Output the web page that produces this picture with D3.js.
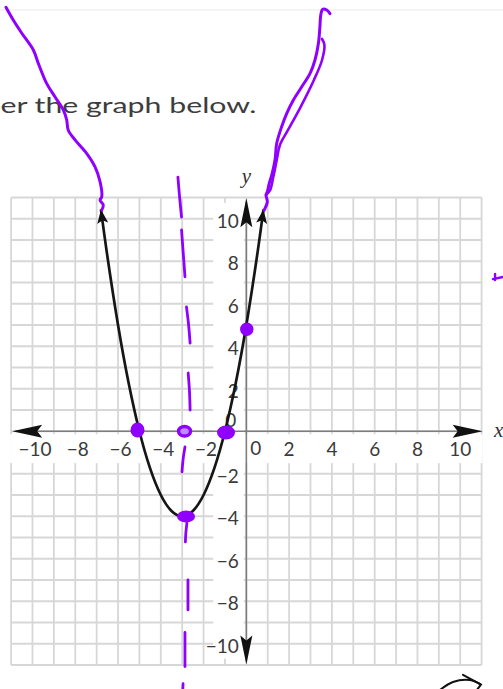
<!DOCTYPE html>
<html>
<head>
<meta charset="utf-8">
<script src="https://cdn.jsdelivr.net/npm/d3@7"></script>
<style>
  html, body { margin: 0; padding: 0; background: #fff; overflow: hidden; }
  svg { display: block; }
</style>
</head>
<body>
<svg id="chart" width="503" height="689"></svg>
<script>
// Graph of y = x² + 6x + 5 on a −11…11 coordinate grid, with hand-drawn notes.

const gridMin = -11, gridMax = 11;

const xTickValues = [-10, -8, -6, -4, -2, 2, 4, 6, 8, 10];
const xTickLabels = ["−10", "−8", "−6", "−4", "−2", "2", "4", "6", "8", "10"];
const yTickValues = [-10, -8, -6, -4, -2, 2, 4, 6, 8, 10];
const yTickLabels = ["−10", "−8", "−6", "−4", "−2", "2", "4", "6", "8", "10"];

// Points on the plotted parabola
const parabolaX = [-6.8, -6.5, -6, -5.5, -5, -4.5, -4, -3.5, -3, -2.5, -2, -1.5, -1, -0.5, 0, 0.5, 0.8];
const parabolaY = [10.44, 8.25, 5, 2.25, 0, -1.75, -3, -3.75, -4, -3.75, -3, -1.75, 0, 2.25, 5, 8.25, 10.44];

// Hand-drawn extensions of the curve (graph units)
const inkLeft = [[-11.24, 19.95], [-10.90, 19.35], [-10.50, 18.73], [-9.96, 17.94], [-9.73, 17.32],
  [-9.34, 16.37], [-8.95, 15.74], [-8.56, 15.12], [-8.40, 14.65], [-8.33, 14.18], [-8.01, 13.71],
  [-7.47, 13.08], [-7.08, 12.45], [-6.84, 11.74], [-6.76, 11.04], [-6.84, 10.88], [-6.69, 10.65], [-6.76, 10.41]];
const inkRightUp = [[3.91, 19.65], [3.76, 19.82], [3.57, 19.86], [3.48, 19.59], [3.44, 19.04], [3.37, 18.26],
  [3.21, 17.47], [2.98, 16.84], [2.59, 16.21], [2.20, 15.59], [1.89, 14.96], [1.65, 14.33], [1.42, 13.55],
  [1.34, 12.76], [1.19, 12.06], [1.07, 11.67], [0.98, 11.27], [0.92, 11.12], [0.98, 10.80], [0.83, 10.40]];
const inkRightBack = [[0.92, 11.12], [1.11, 11.35], [1.25, 11.92], [1.42, 12.76], [1.57, 13.47], [1.95, 14.18],
  [2.51, 15.21], [3.16, 16.53], [3.54, 17.47], [3.65, 18.18], [3.54, 18.46]];

// Dashed axis of symmetry, drawn by hand near x = −3
const symmetryDashes = [
  [[-3.20, 11.96], [-3.12, 11.0], [-3.03, 10.08]],
  [[-3.03, 9.47], [-2.96, 8.5], [-2.87, 7.27]],
  [[-2.80, 5.85], [-2.70, 5.0], [-2.63, 4.15]],
  [[-2.72, 2.74], [-2.66, 1.9], [-2.63, 1.00]],
  [[-2.87, -0.74], [-2.95, -1.25], [-3.01, -1.91]],
  [[-2.78, -4.32], [-2.83, -4.8], [-2.85, -5.21]],
  [[-2.73, -7.00], [-2.73, -8.41]],
  [[-2.87, -9.47], [-2.87, -11.07]],
  [[-2.96, -11.88], [-2.98, -12.3]]
];

// Marked points: x-intercepts, vertex, y-intercept
const blobs = [
  { x: -5.09, y: 0.06, rx: 7, ry: 7.5 },
  { x: -0.95, y: -0.06, rx: 9, ry: 7 },
  { x: -2.82, y: -4.01, rx: 9, ry: 6 }
];
const loopMark = { x: -2.89, y: 0.0, rx: 6, ry: 4.8 };
const interceptDot = { x: 0.02, y: 4.80, r: 6.7 };

// Small stray marks
const sideTick = [[[11.53, 7.16], [11.99, 7.26]], [[11.63, 7.40], [11.63, 7.12]]];
const turnArrow = [[9.05, -12.18], [9.66, -11.80], [10.46, -11.71], [10.92, -11.89]];
const turnArrowHead = [[10.13, -11.46], [10.97, -11.92], [10.80, -12.15]];

const W = 503, H = 689;
const x = d3.scaleLinear().domain([gridMin, gridMax]).range([11.1, 481.6]);
const y = d3.scaleLinear().domain([gridMin, gridMax]).range([665, 197.5]);

const svg = d3.select("#chart");
const ink = "#9000ff";

// faint page rule
svg.append("line").attr("x1", 0).attr("x2", W).attr("y1", 10).attr("y2", 10)
  .attr("stroke", "#f0f0f0").attr("stroke-width", 1.5);

// prompt text
svg.append("text")
  .attr("x", 0.5).attr("y", 113)
  .attr("font-family", "Lato, 'Noto Sans', sans-serif")
  .attr("font-size", 22)
  .attr("fill", "#3d3d3d")
  .attr("textLength", 256)
  .attr("lengthAdjust", "spacingAndGlyphs")
  .text("er the graph below.");

// grid
const gridVals = d3.range(gridMin, gridMax + 1);
const gGrid = svg.append("g").attr("stroke", "#d7d7d7").attr("stroke-width", 1.8);
gGrid.selectAll("line.v").data(gridVals).join("line").attr("class", "v")
  .attr("x1", d => x(d)).attr("x2", d => x(d))
  .attr("y1", y(gridMax)).attr("y2", y(gridMin));
gGrid.selectAll("line.h").data(gridVals).join("line").attr("class", "h")
  .attr("y1", d => y(d)).attr("y2", d => y(d))
  .attr("x1", x(gridMin)).attr("x2", x(gridMax));

// white strips behind the tick labels
svg.append("rect")
  .attr("x", x(gridMin) - 1).attr("width", x(gridMax) - x(gridMin) + 2)
  .attr("y", y(-0.14)).attr("height", y(-1.5) - y(-0.14))
  .attr("fill", "#fff");
svg.append("rect")
  .attr("x", x(-1.55)).attr("width", x(-0.12) - x(-1.55))
  .attr("y", y(10.75)).attr("height", y(-10.7) - y(10.75))
  .attr("fill", "#fff");

// axes
const axisColor = "#7d7d7d";
svg.append("line").attr("x1", x(-10.8)).attr("x2", x(10.8)).attr("y1", y(0)).attr("y2", y(0))
  .attr("stroke", axisColor).attr("stroke-width", 1.6);
svg.append("line").attr("y1", y(10.8)).attr("y2", y(-10.8)).attr("x1", x(0)).attr("x2", x(0))
  .attr("stroke", axisColor).attr("stroke-width", 1.6);

function arrowHead(tx, ty, angleDeg, L, w, notch) {
  const pts = [[0, 0], [-L, -w], [-L + notch, 0], [-L, w]];
  svg.append("path")
    .attr("d", "M" + pts.map(p => p.join(",")).join("L") + "Z")
    .attr("transform", `translate(${tx},${ty}) rotate(${angleDeg})`)
    .attr("fill", "#111");
}
arrowHead(x(-10.95), y(0), 180, 30, 6.5, 5);
arrowHead(x(11.05), y(0), 0, 30, 6.5, 5);
arrowHead(x(0), y(10.96), -90, 29, 6, 5);
arrowHead(x(0), y(-10.98), 90, 29, 6, 5);

// tick labels
const labelFont = "Lato, 'Noto Sans', sans-serif";
svg.append("g").selectAll("text").data(xTickValues).join("text")
  .attr("x", d => x(d) + (d < 0 ? 2.5 : 0))
  .attr("y", y(0) + 24.5)
  .attr("text-anchor", "middle")
  .attr("font-family", labelFont).attr("font-size", 19).attr("fill", "#3a3a3a")
  .text((d, i) => xTickLabels[i]);
svg.append("g").selectAll("text").data(yTickValues).join("text")
  .attr("x", x(0) - 7.5)
  .attr("y", d => y(d) + 9)
  .attr("text-anchor", "end")
  .attr("font-family", labelFont).attr("font-size", 19).attr("fill", "#3a3a3a")
  .text((d, i) => yTickLabels[i]);
svg.append("text").attr("x", x(0) - 10).attr("y", y(0) - 4)
  .attr("text-anchor", "end")
  .attr("font-family", labelFont).attr("font-size", 19).attr("fill", "#3a3a3a").text("0");
svg.append("text").attr("x", x(0) + 9.5).attr("y", y(0) + 24)
  .attr("text-anchor", "middle")
  .attr("font-family", labelFont).attr("font-size", 19).attr("fill", "#3a3a3a").text("0");

// axis names
svg.append("text").attr("x", x(0)).attr("y", 183).attr("text-anchor", "middle")
  .attr("font-family", "'Liberation Serif', 'DejaVu Serif', serif").attr("font-style", "italic")
  .attr("font-size", 21).attr("fill", "#333").text("y");
svg.append("text").attr("x", 494).attr("y", y(0) + 5.5)
  .attr("font-family", "'Liberation Serif', 'DejaVu Serif', serif").attr("font-style", "italic")
  .attr("font-size", 21).attr("fill", "#333").text("x");

// parabola
const parabolaPts = parabolaX.map((v, i) => [v, parabolaY[i]]);
const curveLine = d3.line().x(d => x(d[0])).y(d => y(d[1])).curve(d3.curveNatural);
const curvePath = svg.append("path")
  .attr("d", curveLine(parabolaPts))
  .attr("fill", "none").attr("stroke", "#161616").attr("stroke-width", 2.7);

const pNode = curvePath.node();
const total = pNode.getTotalLength();
function endArrow(atStart) {
  const a = pNode.getPointAtLength(atStart ? 0 : total);
  const b = pNode.getPointAtLength(atStart ? 3 : total - 3);
  const ang = Math.atan2(a.y - b.y, a.x - b.x) * 180 / Math.PI;
  arrowHead(a.x, a.y, ang, 14, 5.5, 3);
}
endArrow(true);
endArrow(false);

// handwritten notes
const inkLine = d3.line().x(d => x(d[0])).y(d => y(d[1])).curve(d3.curveCatmullRom.alpha(0.5));
const gInk = svg.append("g").attr("fill", "none").attr("stroke", ink)
  .attr("stroke-width", 3).attr("stroke-linecap", "round").attr("stroke-linejoin", "round");

gInk.append("path").attr("d", inkLine(inkLeft));
gInk.append("path").attr("d", inkLine(inkRightUp));
gInk.append("path").attr("d", inkLine(inkRightBack)).attr("stroke-width", 2.6);
gInk.selectAll("path.dash").data(symmetryDashes).join("path").attr("class", "dash")
  .attr("d", d => inkLine(d)).attr("stroke-width", 2.8);
gInk.selectAll("path.side").data(sideTick).join("path").attr("class", "side")
  .attr("d", d => inkLine(d)).attr("stroke-width", 2.4);

svg.append("g").selectAll("ellipse").data(blobs).join("ellipse")
  .attr("cx", d => x(d.x)).attr("cy", d => y(d.y))
  .attr("rx", d => d.rx).attr("ry", d => d.ry)
  .attr("fill", ink);
svg.append("ellipse")
  .attr("cx", x(loopMark.x)).attr("cy", y(loopMark.y))
  .attr("rx", loopMark.rx).attr("ry", loopMark.ry)
  .attr("fill", "#c28aff").attr("stroke", ink).attr("stroke-width", 3.4);
svg.append("circle")
  .attr("cx", x(interceptDot.x)).attr("cy", y(interceptDot.y))
  .attr("r", interceptDot.r).attr("fill", ink);

// small curved arrow at the bottom
const gTurn = svg.append("g").attr("fill", "none").attr("stroke", "#111")
  .attr("stroke-width", 2).attr("stroke-linecap", "round");
gTurn.append("path").attr("d", inkLine(turnArrow));
gTurn.append("path").attr("d", d3.line().x(d => x(d[0])).y(d => y(d[1]))(turnArrowHead));
</script>
</body>
</html>
